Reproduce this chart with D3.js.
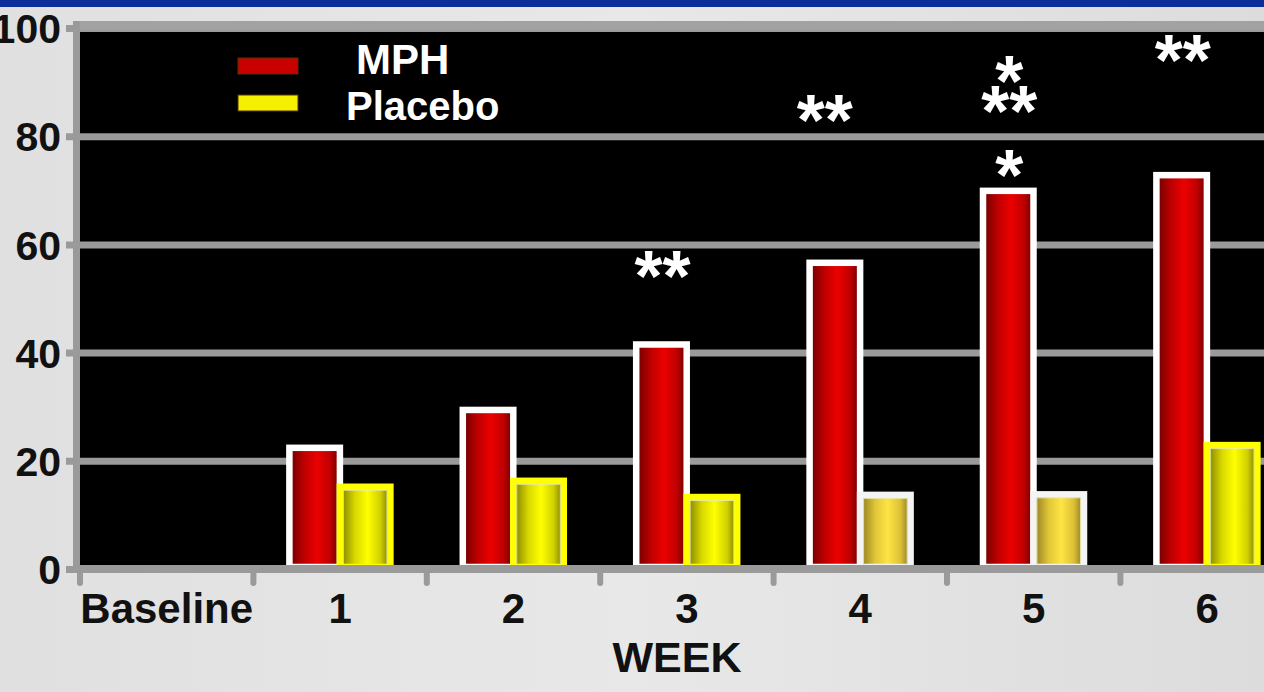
<!DOCTYPE html>
<html>
<head>
<meta charset="utf-8">
<script src="https://cdn.jsdelivr.net/npm/d3@7"></script>
<style>
  html, body { margin: 0; padding: 0; overflow: hidden; }
  body { width: 1264px; height: 692px; }
  svg { display: block; font-family: "Liberation Sans", Arial, sans-serif; font-weight: bold; }
</style>
</head>
<body>
<div class="container"></div>
<script>
// chart data
var weeks = ["Baseline", "1", "2", "3", "4", "5", "6"];
var series = ["MPH", "Placebo"];
var mphValues = [null, 22.4, 29.4, 41.5, 56.6, 69.9, 72.8];
var placeboValues = [null, 15.2, 16.3, 13.3, 13.7, 13.8, 22.9];
var yTicks = [0, 20, 40, 60, 80, 100];
// significance marks: week, label, height in axis units
var marks = [
  { week: "3", text: "**", at: 55.8 },
  { week: "4", text: "**", at: 84.7 },
  { week: "5", text: "*", at: 74.5 },
  { week: "5", text: "**", at: 86.3 },
  { week: "5", text: "*", at: 91.8 },
  { week: "6", text: "**", at: 95.8 }
];

(function() {
  var width = 1264, height = 692;
  var left = 80, top = 30, bottom = 569;
  var bandW = 173.4;
  var grey = "#9a9a9a";
  var mutedWeeks = ["4", "5"];

  var svg = d3.select('div.container').append('svg')
    .attr('width', width).attr('height', height);

  var defs = svg.append('defs');
  var addGrad = function(id, stops) {
    var g = defs.append('linearGradient').attr('id', id)
      .attr('x1', '0%').attr('x2', '100%').attr('y1', '0%').attr('y2', '0%');
    stops.forEach(function(s) {
      g.append('stop').attr('offset', s[0]).attr('stop-color', s[1]);
    });
  };
  addGrad('red', [['0%', '#6a0000'], ['30%', '#c00000'], ['55%', '#ec0000'], ['80%', '#c00000'], ['100%', '#6a0000']]);
  addGrad('yellow', [['0%', '#7a7a00'], ['30%', '#d8d800'], ['55%', '#ffff00'], ['80%', '#d0d000'], ['100%', '#727200']]);
  addGrad('gold', [['0%', '#8a7620'], ['30%', '#e0c638'], ['55%', '#ffe444'], ['80%', '#dcc036'], ['100%', '#84701e']]);
  addGrad('bg', [['0%', '#e0e0e0'], ['50%', '#e8e8e8'], ['100%', '#dcdcdc']]);

  // background and top band
  svg.append('rect').attr('width', width).attr('height', height).attr('fill', 'url(#bg)');
  svg.append('rect').attr('width', width).attr('height', 7).attr('fill', '#0a2f98');

  var x = d3.scaleBand().domain(weeks).range([left, left + bandW * weeks.length]).padding(0);
  var x1 = d3.scaleBand().domain(series).range([36, 137]).padding(0);
  var y = d3.scaleLinear().domain([0, 100]).range([bottom, 28]);

  // black plot panel
  svg.append('rect').attr('x', left).attr('y', top)
    .attr('width', width - left).attr('height', bottom - top).attr('fill', '#000');

  // y axis with gridlines
  var yAxis = svg.append('g').attr('transform', 'translate(73,0)')
    .call(d3.axisLeft(y).tickValues(yTicks).tickSizeInner(-(width - 73)).tickSizeOuter(0).tickPadding(12));
  yAxis.select('.domain').remove();
  yAxis.selectAll('.tick line').attr('x1', -7).attr('stroke', grey).attr('stroke-width', 7);
  yAxis.selectAll('.tick text')
    .attr('fill', '#111').attr('font-size', 41).attr('font-weight', 'bold')
    .attr('font-family', '"Liberation Sans", Arial, sans-serif').attr('dy', '0.36em');

  // bars
  var rows = weeks.map(function(w, i) {
    return { week: w, values: [mphValues[i], placeboValues[i]] };
  }).filter(function(d) { return d.values[0] != null; });

  var groups = svg.append('g').selectAll('g').data(rows).enter().append('g')
    .attr('transform', function(d) { return 'translate(' + x(d.week) + ',0)'; });

  groups.selectAll('rect.bar')
    .data(function(d) {
      return series.map(function(s, j) { return { week: d.week, key: s, value: d.values[j] }; });
    })
    .enter().append('rect').attr('class', 'bar')
    .attr('x', function(d) { return x1(d.key); })
    .attr('width', x1.bandwidth())
    .attr('y', function(d) { return y(d.value); })
    .attr('height', function(d) { return bottom - 2 - y(d.value); })
    .attr('fill', function(d) {
      if (d.key === 'MPH') return 'url(#red)';
      return mutedWeeks.indexOf(d.week) >= 0 ? 'url(#gold)' : 'url(#yellow)';
    })
    .attr('stroke', function(d) {
      if (d.key === 'MPH') return '#fff';
      return mutedWeeks.indexOf(d.week) >= 0 ? '#f4f4f4' : '#ffff00';
    })
    .attr('stroke-width', 6.5);

  // thin inner edge on placebo bars
  groups.selectAll('rect.edge')
    .data(function(d) { return [{ week: d.week, value: d.values[1] }]; })
    .enter().append('rect').attr('class', 'edge')
    .attr('x', x1('Placebo') + 3.5)
    .attr('width', x1.bandwidth() - 7)
    .attr('y', function(d) { return y(d.value) + 3.5; })
    .attr('height', function(d) { return bottom - 6 - y(d.value); })
    .attr('fill', 'none')
    .attr('stroke', 'rgba(235,235,190,0.8)')
    .attr('stroke-width', 1);

  // frame: top, left and bottom axis line
  svg.append('rect').attr('x', 73).attr('y', 21).attr('width', width - 73).attr('height', 9).attr('fill', '#a2a2a2');
  svg.append('rect').attr('x', 73).attr('y', 21).attr('width', 7).attr('height', 552).attr('fill', grey);
  svg.append('rect').attr('x', 73).attr('y', 565).attr('width', width - 73).attr('height', 8).attr('fill', grey);

  // x axis ticks at band edges
  svg.append('g').selectAll('line').data(weeks).enter().append('line')
    .attr('x1', function(d) { return x(d); }).attr('x2', function(d) { return x(d); })
    .attr('y1', 572).attr('y2', 583)
    .attr('stroke', grey).attr('stroke-width', 6).attr('stroke-linecap', 'round');

  svg.append('g').selectAll('text').data(weeks).enter().append('text')
    .attr('x', function(d) { return x(d) + x.bandwidth() / 2; })
    .attr('y', 623)
    .attr('text-anchor', 'middle').attr('font-size', 42).attr('fill', '#111')
    .text(function(d) { return d; });

  svg.append('text').attr('x', 677).attr('y', 672)
    .attr('text-anchor', 'middle').attr('font-size', 43).attr('fill', '#111')
    .text('WEEK');

  // significance asterisks above MPH bars
  var fs = 72;
  svg.append('g').selectAll('text').data(marks).enter().append('text')
    .attr('x', function(d) { return x(d.week) + x1('MPH') + x1.bandwidth() / 2 + (d.week === '4' ? -10 : 1); })
    .attr('y', function(d) { return y(d.at) + fs * 0.47; })
    .attr('text-anchor', 'middle').attr('font-size', fs).attr('fill', '#fff')
    .text(function(d) { return d.text; });

  // legend
  var legend = svg.append('g');
  var legendColors = ['#c80000', '#f4f000'];
  legend.selectAll('rect').data(series).enter().append('rect')
    .attr('x', 238).attr('y', function(d, i) { return 58 + i * 37; })
    .attr('width', 60).attr('height', 16)
    .attr('fill', function(d, i) { return legendColors[i]; })
    .attr('stroke', '#5a3000').attr('stroke-width', 1);
  legend.selectAll('text').data(series).enter().append('text')
    .attr('x', function(d, i) { return i === 0 ? 356 : 346; })
    .attr('y', function(d, i) { return i === 0 ? 74 : 120; })
    .attr('font-size', function(d, i) { return i === 0 ? 42 : 40; })
    .attr('fill', '#fff')
    .text(function(d) { return d; });
}).call(this);
</script>
</body>
</html>
